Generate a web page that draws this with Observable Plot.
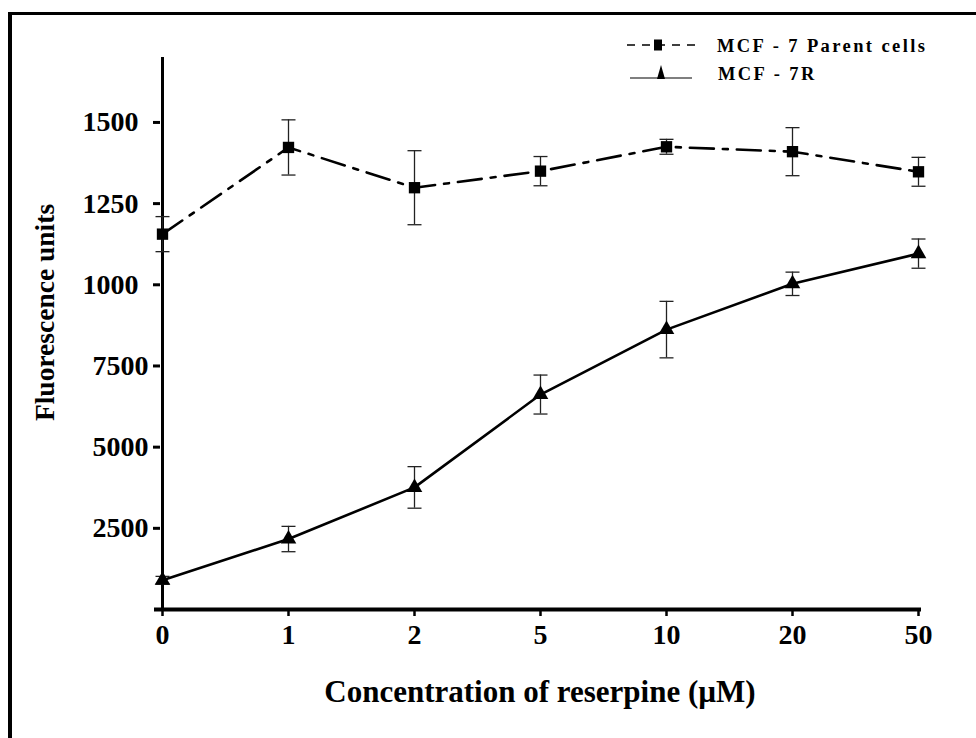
<!DOCTYPE html>
<html>
<head>
<meta charset="utf-8">
<script src="https://cdn.jsdelivr.net/npm/d3@7"></script>
<script src="https://cdn.jsdelivr.net/npm/@observablehq/plot@0.6"></script>
<style>
  html, body { margin: 0; padding: 0; background: #fff; }
  #wrap { position: relative; width: 976px; height: 738px; overflow: hidden; background: #fff; }
  #frame { position: absolute; left: 8px; top: 12px; right: -10px; bottom: -10px;
           border-left: 4px solid #000; border-top: 3px solid #000; pointer-events: none; }
  #chart { position: absolute; left: 0; top: 0; }
</style>
</head>
<body>
<div id="wrap"><div id="chart"></div><div id="frame"></div></div>
<script>
// ---- data ----
const concentrations = ["0", "1", "2", "5", "10", "20", "50"];
const parentMean = [11560, 14230, 12990, 13500, 14250, 14100, 13480];
const parentErr  = [540, 850, 1140, 450, 230, 740, 445];
const resistantMean = [900, 2170, 3760, 6620, 8620, 10030, 10960];
const resistantErr  = [120, 390, 640, 600, 870, 360, 450];
const yTicksLow = [2500, 5000, 7500];
const yTicksHigh = [10000, 12500, 15000];
const yTickLabels = {2500: "2500", 5000: "5000", 7500: "7500", 10000: "1000", 12500: "1250", 15000: "1500"};
const seriesNames = ["MCF - 7 Parent cells", "MCF - 7R"];
const xTitle = "Concentration of reserpine (\u00B5M)";
const yTitle = "Fluorescence units";

const parent = concentrations.map((c, i) => ({c, v: parentMean[i], lo: parentMean[i] - parentErr[i], hi: parentMean[i] + parentErr[i]}));
const resistant = concentrations.map((c, i) => ({c, v: resistantMean[i], lo: resistantMean[i] - resistantErr[i], hi: resistantMean[i] + resistantErr[i]}));

const FONT = "'Liberation Serif', 'Times New Roman', serif";
const cap = {draw(ctx) { ctx.moveTo(-7, 0); ctx.lineTo(7, 0); }};

const chart = Plot.plot({
  width: 976,
  height: 738,
  marginLeft: 160,
  marginRight: 57,
  marginTop: 57,
  marginBottom: 129,
  style: {fontFamily: FONT, background: "transparent", color: "#000"},
  x: {type: "point", domain: concentrations, padding: 0},
  y: {domain: [0, 17000]},
  marks: [
    // axes
    Plot.axisX({tickSize: 7, tickPadding: 8, fontSize: 28, fontWeight: "bold", strokeWidth: 2.5, label: null}),
    Plot.axisY(yTicksLow, {tickSize: 7, tickPadding: 5, fontSize: 28, fontWeight: "bold", strokeWidth: 3, tickFormat: d => yTickLabels[d], label: null}),
    Plot.axisY(yTicksHigh, {tickSize: 7, tickPadding: 15, fontSize: 28, fontWeight: "bold", strokeWidth: 3, tickFormat: d => yTickLabels[d], label: null}),
    Plot.ruleY([0], {stroke: "#000", strokeWidth: 4, insetLeft: -6, insetRight: -2}),
    Plot.ruleX([concentrations[0]], {stroke: "#000", strokeWidth: 3, insetBottom: -2}),
    // error bars
    Plot.ruleX(parent, {x: "c", y1: "lo", y2: "hi", stroke: "#222", strokeWidth: 1.3}),
    Plot.dot(parent, {x: "c", y: "lo", symbol: cap, fill: "none", stroke: "#222", strokeWidth: 1.3}),
    Plot.dot(parent, {x: "c", y: "hi", symbol: cap, fill: "none", stroke: "#222", strokeWidth: 1.3}),
    Plot.ruleX(resistant, {x: "c", y1: "lo", y2: "hi", stroke: "#222", strokeWidth: 1.3}),
    Plot.dot(resistant, {x: "c", y: "lo", symbol: cap, fill: "none", stroke: "#222", strokeWidth: 1.3}),
    Plot.dot(resistant, {x: "c", y: "hi", symbol: cap, fill: "none", stroke: "#222", strokeWidth: 1.3}),
    // lines
    Plot.line(parent, {x: "c", y: "v", stroke: "#000", strokeWidth: 2.6, strokeDasharray: "24,9,5,9"}),
    Plot.line(resistant, {x: "c", y: "v", stroke: "#000", strokeWidth: 2.6, curve: "linear"}),
    // markers
    Plot.dot(parent, {x: "c", y: "v", symbol: "square", r: 6.4, fill: "#000", stroke: "none"}),
    Plot.dot(resistant, {x: "c", y: "v", symbol: "triangle", r: 5.8, fill: "#000", stroke: "none"}),
    // axis titles
    Plot.text([xTitle], {frameAnchor: "bottom", dy: 83, lineAnchor: "middle", fontSize: 31, fontWeight: "bold"}),
    Plot.text([yTitle], {frameAnchor: "left", textAnchor: "middle", rotate: -90, dx: -115, dy: -21, fontSize: 27.5, fontWeight: "bold"})
  ]
});
document.getElementById("chart").appendChild(chart);

// legend
const svg = d3.select(chart);
const lg = svg.append("g").attr("font-family", FONT).attr("font-weight", "bold").attr("font-size", 18.5)
  .attr("letter-spacing", 2.4).attr("text-anchor", "start");
// parent entry
lg.append("line").attr("x1", 627).attr("x2", 697).attr("y1", 45).attr("y2", 45)
  .attr("stroke", "#000").attr("stroke-width", 1.3).attr("stroke-dasharray", "8,7");
lg.append("rect").attr("x", 654).attr("y", 39.5).attr("width", 8).attr("height", 11).attr("fill", "#000");
lg.append("text").attr("x", 717).attr("y", 52).text(seriesNames[0]);
// resistant entry
lg.append("line").attr("x1", 630).attr("x2", 692).attr("y1", 78).attr("y2", 78)
  .attr("stroke", "#000").attr("stroke-width", 1.1);
lg.append("path").attr("d", "M661,65 L665,79 L657,79 Z").attr("fill", "#000");
lg.append("text").attr("x", 718).attr("y", 80).text(seriesNames[1]);
</script>
</body>
</html>
